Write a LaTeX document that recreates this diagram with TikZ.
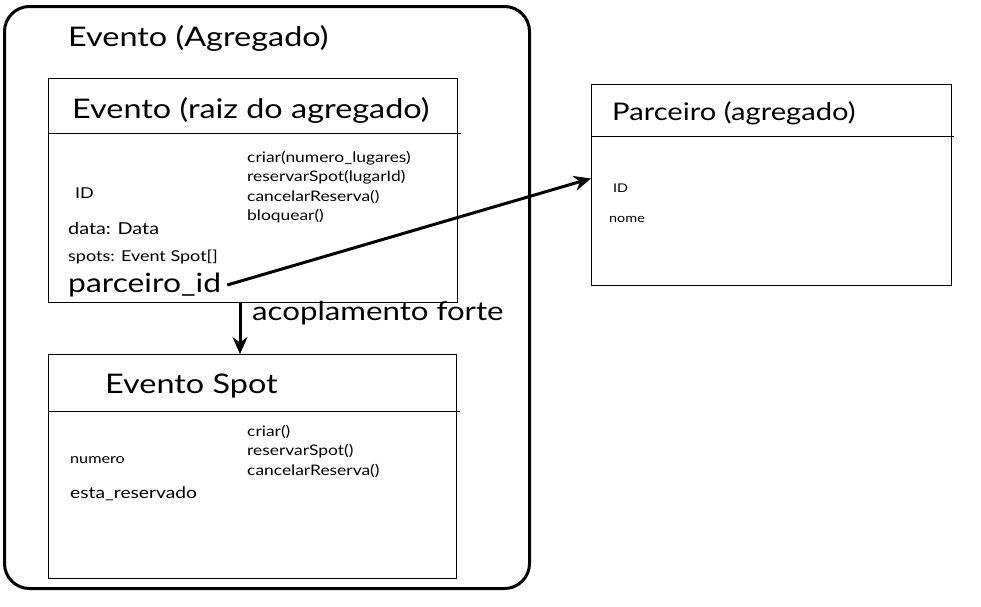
\documentclass[tikz,border=0pt]{standalone}
\usepackage{fontspec}
\setmainfont{Lato}[FakeStretch=1.2]
\usetikzlibrary{arrows.meta}
\begin{document}
\begin{tikzpicture}[x=1pt,y=-1pt,
  box/.style={draw, line width=0.9pt, inner sep=0, anchor=north west},
  bigtitle/.style={font=\fontsize{27}{30}\selectfont, anchor=west, inner sep=0},
  attr/.style={font=\fontsize{15}{17}\selectfont, anchor=west, inner sep=0},
  methods/.style={font=\fontsize{14.5}{19.5}\selectfont, anchor=north west, inner sep=0, align=left},
  tiny/.style={font=\fontsize{12}{14}\selectfont, anchor=west, inner sep=0},
  conn/.style={line width=3pt, -{Stealth[length=17pt,width=15pt]}}
]
\useasboundingbox (0,0) rectangle (981,606);

% outer aggregate frame
\node[draw, line width=3pt, rounded corners=25pt, minimum width=525pt, minimum height=582pt, anchor=north west, inner sep=0] (agg) at (3,5) {};
\node[bigtitle] (aggtitle) at (68,38) {Evento (Agregado)};

% Evento root box
\node[box, minimum width=409pt, minimum height=224pt] (evento) at (48,78) {};
\draw[line width=0.9pt] ([yshift=-55pt]evento.north west) -- ([yshift=-55pt,xshift=3pt]evento.north east);
\node[bigtitle] (evtitle) at (72,110) {Evento (raiz do agregado)};
\node[attr] (evid) at (75,193) {ID};
\node[attr, font=\fontsize{16.5}{18}\selectfont] (evdata) at (68,228) {data: Data};
\node[attr] (evspots) at (68,257) {spots: Event Spot[]};
\node[bigtitle, font=\fontsize{26.5}{29}\selectfont] (pid) at (68,285) {parceiro\_id};
\node[methods] (evmeth) at (247,151) {criar(numero\_lugares)\\reservarSpot(lugarId)\\cancelarReserva()\\bloquear()};

% Evento Spot box
\node[box, minimum width=408pt, minimum height=224pt] (spot) at (48,354) {};
\draw[line width=0.9pt] ([yshift=-57pt]spot.north west) -- ([yshift=-57pt,xshift=3pt]spot.north east);
\node[bigtitle] (sptitle) at (105,386) {Evento Spot};
\node[tiny, font=\fontsize{13.5}{16}\selectfont] (spnum) at (70,460) {numero};
\node[attr, font=\fontsize{16}{18}\selectfont] (spres) at (70,494) {esta\_reservado};
\node[methods] (spmeth) at (247,425) {criar()\\reservarSpot()\\cancelarReserva()};

% Parceiro box
\node[box, minimum width=360pt, minimum height=201pt] (parc) at (591,84) {};
\draw[line width=0.9pt] ([yshift=-52pt]parc.north west) -- ([yshift=-52pt,xshift=2pt]parc.north east);
\node[bigtitle, font=\fontsize{24.3}{27}\selectfont] (pctitle) at (612,113) {Parceiro (agregado)};
\node[tiny] (pcid) at (613,188) {ID};
\node[tiny] (pcnome) at (609,219) {nome};

% connectors
\coordinate (ax) at (240,0);
\draw[conn] (evento.south -| ax) -- (spot.north -| ax);
\node[bigtitle, font=\fontsize{26}{29}\selectfont] (acop) at (252,313) {acoplamento forte};
\draw[conn] ([xshift=6pt]pid.east) -- ([yshift=6.5pt]parc.west);
\end{tikzpicture}
\end{document}
